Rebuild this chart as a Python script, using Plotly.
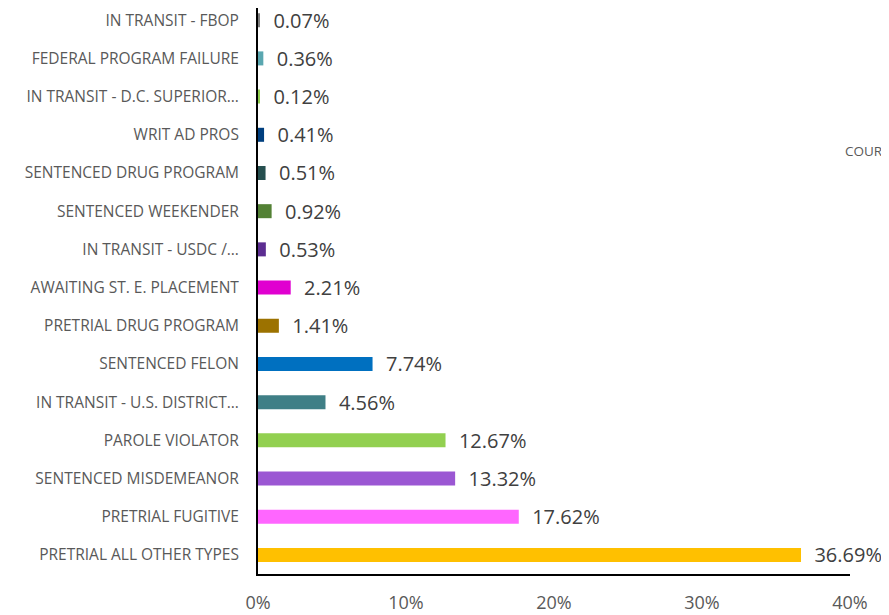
import plotly.graph_objects as go

categories = [
    "PRETRIAL ALL OTHER TYPES",
    "PRETRIAL FUGITIVE",
    "SENTENCED MISDEMEANOR",
    "PAROLE VIOLATOR",
    "IN TRANSIT - U.S. DISTRICT…",
    "SENTENCED FELON",
    "PRETRIAL DRUG PROGRAM",
    "AWAITING ST. E. PLACEMENT",
    "IN TRANSIT - USDC /…",
    "SENTENCED WEEKENDER",
    "SENTENCED DRUG PROGRAM",
    "WRIT AD PROS",
    "IN TRANSIT - D.C. SUPERIOR…",
    "FEDERAL PROGRAM FAILURE",
    "IN TRANSIT - FBOP",
]
values = [36.69, 17.62, 13.32, 12.67, 4.56, 7.74, 1.41, 2.21, 0.53, 0.92, 0.51, 0.41, 0.12, 0.36, 0.07]
colors = [
    "#ffc000", "#ff66ff", "#9b57d3", "#92d050", "#3f7f86", "#0070c0", "#9c7200",
    "#e000d0", "#5c2d91", "#538135", "#264f4f", "#003f7f", "#92d050", "#5aa7b0", "#7f7f7f",
]
x_ticks = [0, 10, 20, 30, 40]
x_tick_labels = ["0%", "10%", "20%", "30%", "40%"]

fig = go.Figure(go.Bar(
    y=categories,
    x=values,
    orientation="h",
    marker=dict(color=colors, line=dict(width=0)),
    texttemplate="\u00a0\u00a0%{x:.2f}%",
    textposition="outside",
    constraintext="none",
    cliponaxis=False,
    textfont=dict(family="Open Sans", size=20, color="#404040"),
    hoverinfo="skip",
))

# page body has an 8px margin, so the figure is sized/offset to compensate
fig.update_layout(
    width=881, height=607,
    margin=dict(l=250, r=39, t=0, b=41),
    paper_bgcolor="white", plot_bgcolor="white",
    bargap=0.633,
    showlegend=False,
    font=dict(family="Open Sans", color="#595959"),
)
fig.update_xaxes(
    range=[0, 40], tickvals=x_ticks, ticktext=x_tick_labels,
    showgrid=False, zeroline=False, automargin=False,
    showline=True, linecolor="black", linewidth=2,
    tickfont=dict(family="Open Sans", size=18, color="#595959"),
    ticks="", ticklabelstandoff=11,
)
fig.update_yaxes(
    range=[-0.5, 14.32],
    showgrid=False, zeroline=False, automargin=False,
    showline=True, linecolor="black", linewidth=2,
    tickfont=dict(family="Open Sans", size=15.5, color="#595959"),
    ticks="", ticklabelstandoff=14,
)
fig.add_annotation(
    text="COUR", xref="paper", yref="paper", x=0.9885, y=0.747,
    xanchor="left", yanchor="middle", showarrow=False,
    font=dict(family="Open Sans", size=13.5, color="#595959"),
)
fig.write_html("out.html")
